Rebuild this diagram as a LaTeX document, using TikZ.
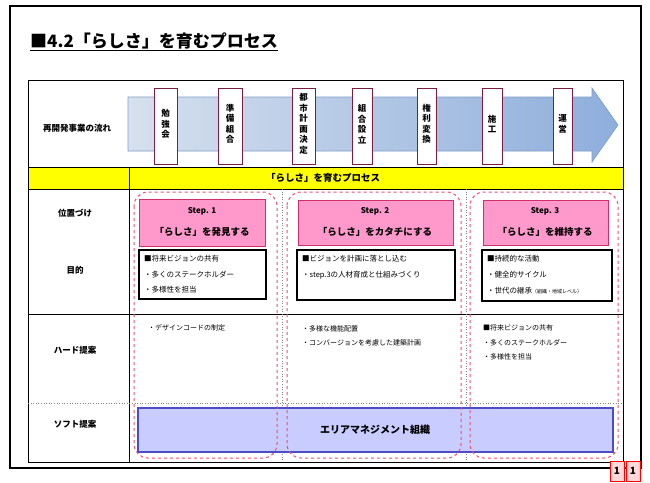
\documentclass[tikz,border=0pt]{standalone}
\usepackage{fontspec}
\setmainfont{Noto Sans CJK JP}
\usetikzlibrary{shapes.geometric}
\definecolor{arrowL}{HTML}{D6E0EE}
\definecolor{arrowR}{HTML}{8EAEDC}
\definecolor{arrowEdge}{HTML}{7F9CC4}
\definecolor{pinkfill}{HTML}{FF99CC}
\definecolor{pinkedge}{HTML}{D0306A}
\definecolor{dashred}{HTML}{E8506E}
\definecolor{softfill}{HTML}{C8CCFF}
\definecolor{softedge}{HTML}{4C4CC8}
\definecolor{yellowbar}{HTML}{FFFF00}
\tikzset{
  flowbox/.style={draw=pinkedge!60!black, line width=0.6pt, fill=white},
  vtext/.style={font=\fontsize{8.5}{10.5}\selectfont\bfseries, align=center, inner sep=0pt},
  rowlabel/.style={font=\fontsize{8.5}{10}\selectfont\bfseries, anchor=center},
  stepframe/.style={draw=dashred, dashed, line width=1pt, rounded corners=14pt},
  stepbox/.style={draw=pinkedge, line width=0.8pt, fill=pinkfill},
  purpbox/.style={draw=black, line width=1.1pt, fill=white},
  smalltext/.style={font=\fontsize{7.5}{9}\selectfont, anchor=west, inner sep=0pt},
  bodytext/.style={font=\fontsize{7}{9}\selectfont, anchor=west, inner sep=0pt},
  coldiv/.style={draw=gray, dotted, line width=0.6pt},
}
\begin{document}
\begin{tikzpicture}[x=1pt,y=-1pt]
\useasboundingbox (0,0) rectangle (650,482);
\fill[white] (0,0) rectangle (650,482);
% outer frame
\draw[line width=1.4pt] (10,6) rectangle (641,468);
% title
\node[anchor=west, font=\fontsize{17}{19}\selectfont\bfseries, inner sep=0pt] (title) at (30,42) {\underline{■4.2「らしさ」を育むプロセス}};
% table grid
\fill[yellowbar] (28,167) rectangle (623,189);
\draw[line width=1pt] (28,80) rectangle (623,462);
\draw[line width=1pt] (28,167) -- (623,167);
\draw[line width=1pt] (28,189) -- (623,189);
\draw[line width=1pt] (28,314) -- (623,314);
\draw[line width=1pt] (129,167) -- (129,462);
\draw[coldiv] (28,403) -- (623,403);
\draw[coldiv] (282,189) -- (282,462);
\draw[coldiv] (466,189) -- (466,462);
% flow arrow
\shade[left color=arrowL, right color=arrowR, draw=arrowEdge, line width=0.6pt]
  (128,97) -- (592,97) -- (592,88) -- (618,125) -- (592,162) -- (592,151) -- (128,151) -- cycle;
% flow boxes
\foreach \nm/\xa/\xb/\txt in {f1/154/177/{勉\\強\\会}, f2/218/242/{準\\備\\組\\合}, f3/292/315/{都\\市\\計\\画\\決\\定}, f4/352/372/{組\\合\\設\\立}, f5/417/436/{権\\利\\変\\換}, f6/482/502/{施\\工}, f7/553/572/{運\\営}}{
  \draw[flowbox] (\xa,88) rectangle (\xb,164);
  \node[vtext] (\nm) at ({(\xa+\xb)/2},124) {\txt};
}
% row labels
\node[rowlabel] (lflow) at (77,128) {再開発事業の流れ};
\node[rowlabel] (lpos) at (75,213) {位置づけ};
\node[rowlabel] (lpur) at (75,270) {目的};
\node[rowlabel] (lhard) at (75,350) {ハード提案};
\node[rowlabel] (lsoft) at (75,424) {ソフト提案};
% yellow bar text
\node[font=\fontsize{9.5}{11}\selectfont\bfseries] (ybar) at (323,178) {「らしさ」を育むプロセス};
% soft bar
\draw[fill=softfill, draw=softedge, line width=1.4pt] (138,408) rectangle (613,452);
\node[font=\fontsize{10}{12}\selectfont\bfseries] (soft) at (375,430) {エリアマネジメント組織};
% step boxes
\draw[stepbox] (139,199) rectangle (265,246);
\node[font=\fontsize{8}{10}\selectfont\bfseries] (s1a) at (202,211) {Step. 1};
\node[font=\fontsize{9.5}{11}\selectfont\bfseries] (s1b) at (202,232) {「らしさ」を発見する};
\draw[stepbox] (298,200) rectangle (453,245);
\node[font=\fontsize{8}{10}\selectfont\bfseries] (s2a) at (375,211) {Step. 2};
\node[font=\fontsize{9.5}{11}\selectfont\bfseries] (s2b) at (375,232) {「らしさ」をカタチにする};
\draw[stepbox] (483,200) rectangle (608,245);
\node[font=\fontsize{8}{10}\selectfont\bfseries] (s3a) at (545,211) {Step. 3};
\node[font=\fontsize{9.5}{11}\selectfont\bfseries] (s3b) at (545,232) {「らしさ」を維持する};
% purpose boxes
\draw[purpbox] (139,250) rectangle (266,299);
\node[smalltext] (p11) at (144,259) {■将来ビジョンの共有};
\node[smalltext] (p12) at (144,275) {・多くのステークホルダー};
\node[smalltext] (p13) at (144,290) {・多様性を担当};
\draw[purpbox] (297,250) rectangle (455,300);
\node[smalltext] (p21) at (302,259) {■ビジョンを計画に落とし込む};
\node[smalltext] (p22) at (302,275) {・step.3の人材育成と仕組みづくり};
\draw[purpbox] (482,250) rectangle (612,301);
\node[smalltext] (p31) at (487,259) {■持続的な活動};
\node[smalltext] (p32) at (487,275) {・健全的サイクル};
\node[smalltext] (p33) at (487,291) {・世代の継承{\fontsize{5}{6}\selectfont（組織・地域レベル）}};
% hard texts
\node[bodytext] (h11) at (148,328) {・デザインコードの制定};
\node[bodytext] (h21) at (302,329) {・多様な機能配置};
\node[bodytext] (h22) at (302,343) {・コンバージョンを考慮した建築計画};
\node[bodytext] (h31) at (483,328) {■将来ビジョンの共有};
\node[bodytext] (h32) at (483,343) {・多くのステークホルダー};
\node[bodytext] (h33) at (483,357) {・多様性を担当};
% step frames
\draw[stepframe] (134,192) rectangle (277,458);
\draw[stepframe] (287,192) rectangle (461,458);
\draw[stepframe] (470,192) rectangle (618,458);
% page number
\draw[draw=red, line width=1pt, fill=red!15] (610,461) rectangle (624,481);
\draw[draw=red, line width=1pt, fill=red!15] (626,461) rectangle (640,481);
\node[font=\fontsize{10}{12}\selectfont\bfseries] (pg1) at (617,471) {1};
\node[font=\fontsize{10}{12}\selectfont\bfseries] (pg2) at (633,471) {1};
\end{tikzpicture}
\end{document}
